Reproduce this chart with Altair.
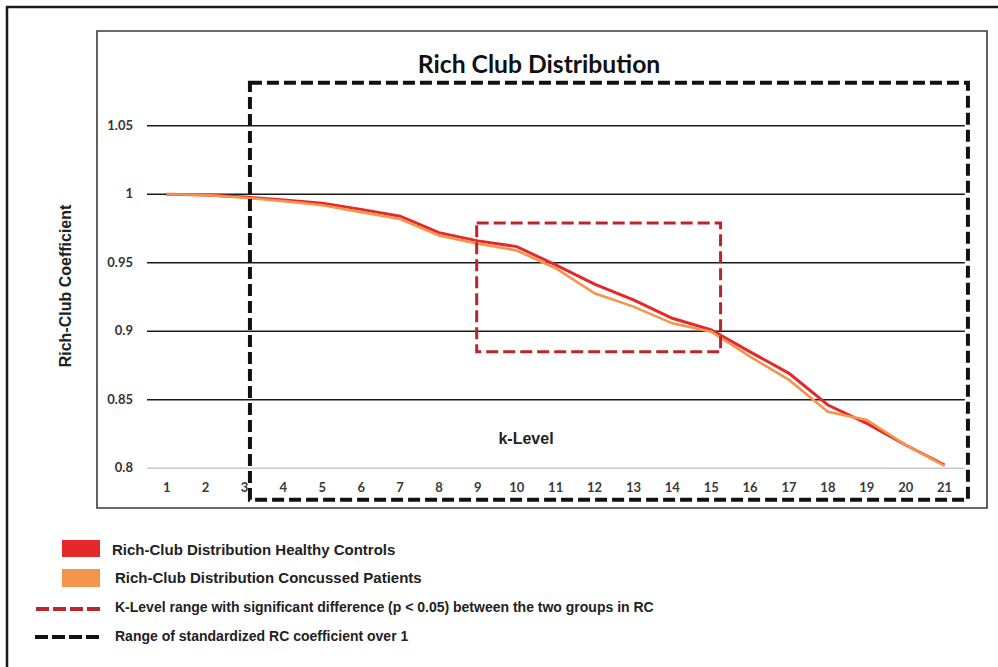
import altair as alt
import pandas as pd

# k-levels and standardized rich-club coefficients for each group
k_levels = list(range(1, 22))
healthy_controls = [1.000, 0.9995, 0.998, 0.9958, 0.9934, 0.989, 0.984, 0.972, 0.966, 0.9618,
                    0.9484, 0.9345, 0.9229, 0.9095, 0.901, 0.885, 0.8693, 0.8462, 0.8328, 0.817, 0.8024]
concussed_patients = [1.000, 0.9995, 0.9975, 0.995, 0.992, 0.987, 0.982, 0.970, 0.964, 0.959,
                      0.946, 0.9277, 0.918, 0.9058, 0.8997, 0.8815, 0.8645, 0.8413, 0.8353, 0.817, 0.8017]

y_ticks = [0.8, 0.85, 0.9, 0.95, 1.0, 1.05]
y_tick_labels = ["0.8", "0.85", "0.9", "0.95", "1", "1.05"]
x_tick_labels = [str(k) for k in k_levels]

# highlighted regions: [k_start, k_end, coef_low, coef_high]
significant_range = [8.97, 15.24, 0.885, 0.979]
over_one_range = [3.14, 21.6, 0.777, 1.0815]

legend_labels = [
    "Rich-Club Distribution Healthy Controls",
    "Rich-Club Distribution Concussed Patients",
    "K-Level range with significant difference (p < 0.05) between the two groups in RC",
    "Range of standardized RC coefficient over 1",
]

RED = "#E5282B"
ORANGE = "#F4954C"
DARK_RED = "#BD252B"
BLACK = "#111111"
FONT = "Liberation Sans"
LATO = "Lato"

W, H = 890, 477
xs = alt.Scale(domain=[-0.792, 22.09], nice=False, zero=False)
ys = alt.Scale(domain=[0.771, 1.1192], nice=False, zero=False)

# horizontal reference lines
grid_df = pd.DataFrame({
    "v": y_ticks,
    "x0": [0.493] * len(y_ticks),
    "x1": [21.52] * len(y_ticks),
    "c": ["#c8c8c8"] + ["#1a1a1a"] * (len(y_ticks) - 1),
})
grid = alt.Chart(grid_df).mark_rule(strokeWidth=1.4).encode(
    x=alt.X("x0:Q", scale=xs, axis=None),
    x2="x1:Q",
    y=alt.Y("v:Q", scale=ys, axis=None),
    color=alt.Color("c:N", scale=None),
)

ylab_df = pd.DataFrame({"v": y_ticks, "t": y_tick_labels})
ylabels = alt.Chart(ylab_df).mark_text(
    align="right", baseline="middle", font=LATO, fontWeight="bold", fontSize=13, color="#333333"
).encode(x=alt.value(36), y=alt.Y("v:Q", scale=ys, axis=None), text="t:N")

xlab_df = pd.DataFrame({"k": k_levels, "t": x_tick_labels})
xlabels = alt.Chart(xlab_df).mark_text(
    align="center", baseline="middle", font=LATO, fontWeight="bold", fontSize=13, color="#3a3a3a"
).encode(x=alt.X("k:Q", scale=xs, axis=None), y=alt.value(457), text="t:N")

series = pd.DataFrame({
    "k": k_levels * 2,
    "rc": healthy_controls + concussed_patients,
    "group": ["Healthy Controls"] * len(k_levels) + ["Concussed Patients"] * len(k_levels),
})
line_h = alt.Chart(series[series.group == "Healthy Controls"]).mark_line(strokeWidth=3, color=RED).encode(
    x=alt.X("k:Q", scale=xs, axis=None), y=alt.Y("rc:Q", scale=ys, axis=None))
line_c = alt.Chart(series[series.group == "Concussed Patients"]).mark_line(strokeWidth=2.6, color=ORANGE).encode(
    x=alt.X("k:Q", scale=xs, axis=None), y=alt.Y("rc:Q", scale=ys, axis=None))


def dashed_box(rng, color, width):
    df = pd.DataFrame({"k0": [rng[0]], "k1": [rng[1]], "lo": [rng[2]], "hi": [rng[3]]})
    return alt.Chart(df).mark_rect(
        filled=False, stroke=color, strokeWidth=width, strokeDash=[12, 5]
    ).encode(
        x=alt.X("k0:Q", scale=xs, axis=None), x2="k1:Q",
        y=alt.Y("hi:Q", scale=ys, axis=None), y2="lo:Q",
    )


box_black = dashed_box(over_one_range, BLACK, 4)
box_red = dashed_box(significant_range, DARK_RED, 3)

title = alt.Chart(pd.DataFrame({"t": ["Rich Club Distribution"]})).mark_text(
    align="center", baseline="alphabetic", font=LATO, fontWeight="bold", fontSize=24.7, color="#111111"
).encode(x=alt.value(442), y=alt.value(42), text="t:N")

klabel = alt.Chart(pd.DataFrame({"t": ["k-Level"]})).mark_text(
    align="center", baseline="middle", font=FONT, fontWeight="bold", fontSize=16, color="#222222"
).encode(x=alt.value(429), y=alt.value(408), text="t:N")

ytitle = alt.Chart(pd.DataFrame({"t": ["Rich-Club Coefficient"]})).mark_text(
    align="center", baseline="middle", angle=270, font=FONT, fontWeight="bold", fontSize=16, color="#222222"
).encode(x=alt.value(-31), y=alt.value(255), text="t:N")

# legend below the plot frame (offsets relative to the plot origin)
LX, LY = -97, -31
sw_df = pd.DataFrame({
    "x0": [62 + LX, 62 + LX], "x1": [100 + LX, 100 + LX],
    "y0": [540 + LY, 569 + LY], "y1": [557 + LY, 587 + LY],
    "c": [RED, ORANGE],
})
swatches = alt.Chart(sw_df).mark_rect().encode(
    x=alt.X("x0:Q", scale=None), x2="x1:Q",
    y=alt.Y("y0:Q", scale=None), y2="y1:Q",
    color=alt.Color("c:N", scale=None),
)
dash_df = pd.DataFrame({
    "x0": [36 + LX, 35 + LX], "x1": [101 + LX, 101 + LX],
    "y": [609 + LY, 637 + LY], "c": [DARK_RED, BLACK],
})
dashes = alt.Chart(dash_df).mark_rule(strokeWidth=4, strokeDash=[13, 4]).encode(
    x=alt.X("x0:Q", scale=None), x2="x1:Q",
    y=alt.Y("y:Q", scale=None),
    color=alt.Color("c:N", scale=None),
)
leg_df = pd.DataFrame({
    "t": legend_labels,
    "x": [112 + LX, 115 + LX, 115 + LX, 115 + LX],
    "y": [550 + LY, 578 + LY, 608 + LY, 637 + LY],
    "s": [15, 15, 14, 14],
})
legend_text = alt.Chart(leg_df).mark_text(
    align="left", baseline="middle", font=FONT, fontWeight="bold", color="#222222"
).encode(
    x=alt.X("x:Q", scale=None), y=alt.Y("y:Q", scale=None), text="t:N",
    size=alt.Size("s:Q", scale=None),
)

# border of the figure panel (left and top edges)
border_left = alt.Chart(pd.DataFrame({"a": [0]})).mark_rule(strokeWidth=2.5, color="#1a1a1a").encode(
    x=alt.value(7 + LX), y=alt.value(6 + LY), y2=alt.value(667 + LY))
border_top = alt.Chart(pd.DataFrame({"a": [0]})).mark_rule(strokeWidth=2.5, color="#1a1a1a").encode(
    x=alt.value(6 + LX), x2=alt.value(998 + LX), y=alt.value(7 + LY))

chart = alt.layer(
    grid, ylabels, xlabels, line_h, line_c, box_black, box_red,
    title, klabel, ytitle, swatches, dashes, legend_text, border_left, border_top,
).properties(
    width=W, height=H,
    autosize=alt.AutoSizeParams(type="none"),
    padding={"left": 97, "top": 31, "right": 11, "bottom": 159},
    background="white",
).configure_view(stroke="#3a3a3a", strokeWidth=1.6)

chart.save("out.html", embed_options={"renderer": "svg", "actions": False})
